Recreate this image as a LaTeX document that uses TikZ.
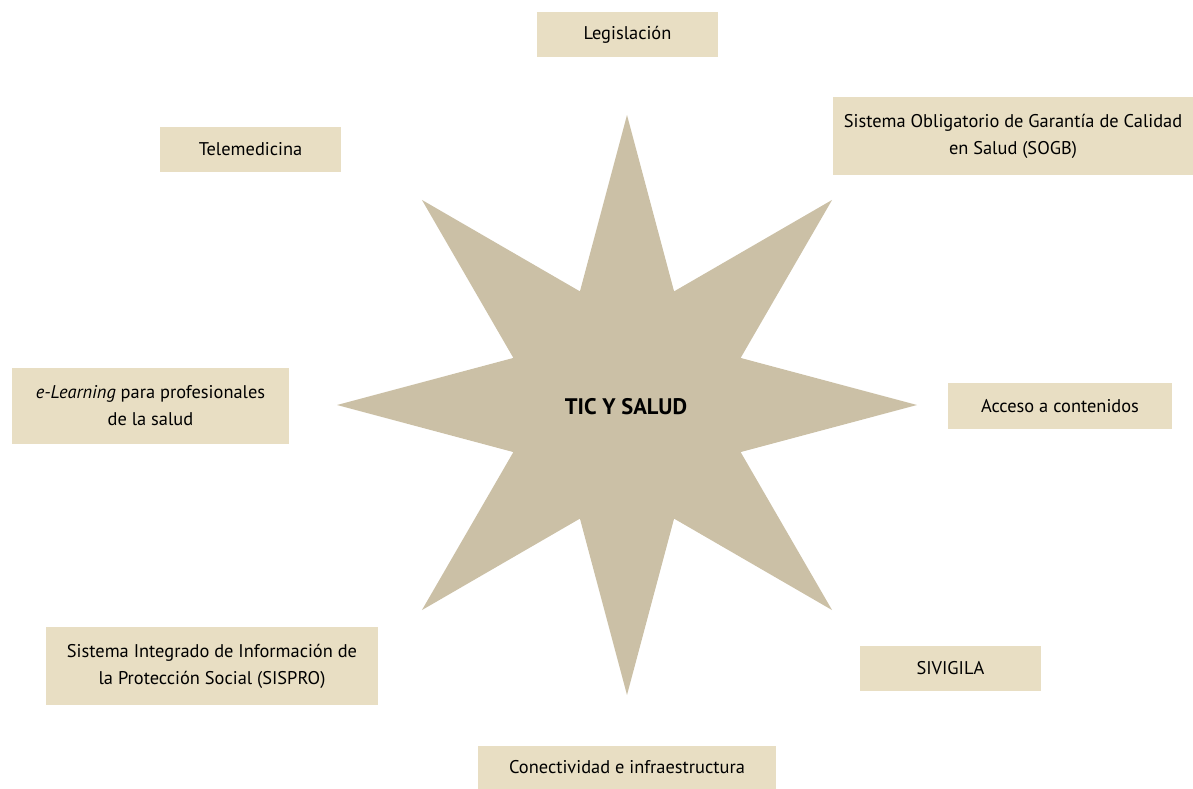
\documentclass[tikz,border=0pt]{standalone}
\usepackage{fontspec}
\setmainfont{PT Sans}
\definecolor{boxfill}{HTML}{E8DEC3}
\definecolor{starfill}{HTML}{CBC0A6}
\begin{document}
\begin{tikzpicture}[x=1pt,y=-1pt,
  lbl/.style={fill=boxfill, draw=none, inner sep=0pt, align=center,
    font=\fontsize{18.4}{27}\selectfont, text=black},
  hub/.style={inner sep=0pt, font=\bfseries\fontsize{22.5}{26}\selectfont, text=black}]
\useasboundingbox (0,0) rectangle (1193,789);
% star
\fill[starfill, shift={(627,405)}]
  (90:290) -- (67.5:123) -- (45:290) -- (22.5:123) -- (0:290) -- (-22.5:123)
  -- (-45:290) -- (-67.5:123) -- (-90:290) -- (-112.5:123) -- (-135:290)
  -- (-157.5:123) -- (180:290) -- (157.5:123) -- (135:290) -- (112.5:123) -- cycle;
\node[hub] (hub) at (626,407) {TIC Y SALUD};
% boxes
\node[lbl, minimum width=181, minimum height=45] (leg) at (627.5,34.5) {Legislación};
\node[lbl, minimum width=181, minimum height=45] (tele) at (250.5,149.5) {Telemedicina};
\node[lbl, minimum width=360, minimum height=78] (sogb) at (1013,136) {Sistema Obligatorio de Garantía de Calidad\\en Salud (SOGB)};
\node[lbl, minimum width=277, minimum height=76] (elearn) at (150.5,406) {\textit{e-Learning} para profesionales\\de la salud};
\node[lbl, minimum width=224, minimum height=46] (acceso) at (1060,406) {Acceso a contenidos};
\node[lbl, minimum width=332, minimum height=78] (sispro) at (212,666) {Sistema Integrado de Información de\\la Protección Social (SISPRO)};
\node[lbl, minimum width=181, minimum height=45] (sivigila) at (950.5,668.5) {SIVIGILA};
\node[lbl, minimum width=298, minimum height=43] (conect) at (627,767.5) {Conectividad e infraestructura};
\end{tikzpicture}
\end{document}
